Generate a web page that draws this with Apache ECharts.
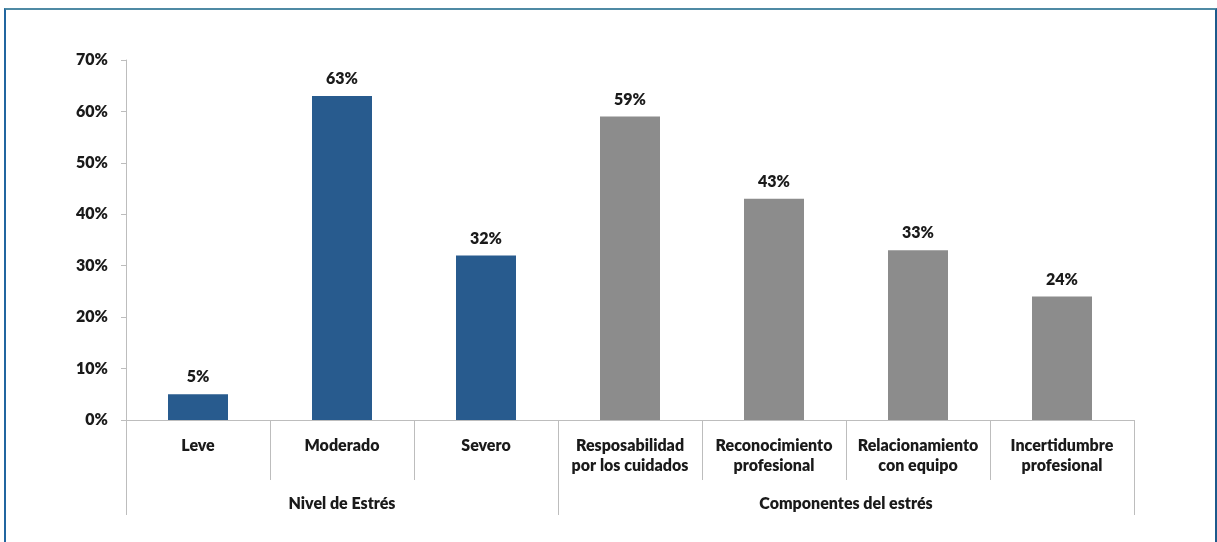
<!DOCTYPE html>
<html>
<head>
<meta charset="utf-8">
<script src="https://cdn.jsdelivr.net/npm/echarts@6/dist/echarts.min.js"></script>
<style>
  html, body { margin: 0; padding: 0; background: #ffffff; }
  #chart { position: absolute; left: 0; top: 0; width: 1217px; height: 542px; }
  #frame { position: absolute; left: 4px; top: 8px; width: 1209px; height: 560px;
           border-top: 2px solid #4f8aa4; border-left: 2px solid #2166a0; border-right: 2px solid #1c5a8c;
           pointer-events: none; }
</style>
</head>
<body>
<div id="chart"></div>
<div id="frame"></div>
<script>
// Data
const categories = ['Leve', 'Moderado', 'Severo',
  'Resposabilidad\npor los cuidados', 'Reconocimiento\nprofesional',
  'Relacionamiento\ncon equipo', 'Incertidumbre\nprofesional'];
const values = [5, 63, 32, 59, 43, 33, 24];
const groupNames = ['Nivel de Estrés', 'Componentes del estrés'];
const groupSizes = [3, 4];
const yTicks = [0, 10, 20, 30, 40, 50, 60, 70];

const groupColors = ['#285b8e', '#8c8c8c'];
const FONT = 'Lato';
const WEIGHT = 800;
const SIZE = 16;
const TXT = '#1a1a1a';
const AX = '#bdbdbd';

// derived group boundaries and centres
const bounds = [0];
groupSizes.forEach(s => bounds.push(bounds[bounds.length - 1] + s));
const centres = groupSizes.map((s, i) => bounds[i] + s / 2);
const groupOfIndex = [];
groupSizes.forEach((s, g) => { for (let k = 0; k < s; k++) groupOfIndex.push(g); });

const chart = echarts.init(document.getElementById('chart'), null, { renderer: 'canvas' });
chart.setOption({
  animation: false,
  backgroundColor: '#ffffff',
  grid: { left: 126, right: 83, top: 60, bottom: 122 },
  xAxis: [
    {
      type: 'category',
      data: categories,
      axisLine: { show: true, lineStyle: { color: AX, width: 1 } },
      axisTick: { show: true, interval: 0, length: 60, lineStyle: { color: AX } },
      axisLabel: {
        interval: 0, margin: 16, color: TXT, fontFamily: FONT, fontWeight: WEIGHT,
        fontSize: SIZE, lineHeight: 20
      }
    },
    {
      type: 'value',
      position: 'bottom',
      min: 0, max: bounds[bounds.length - 1],
      splitLine: { show: false },
      axisLine: { show: false },
      axisTick: { show: true, customValues: bounds, length: 95, lineStyle: { color: AX } },
      axisLabel: {
        customValues: centres, margin: 76, color: TXT, fontFamily: FONT, fontWeight: WEIGHT,
        fontSize: SIZE,
        formatter: function (v) {
          const i = centres.indexOf(v);
          return i >= 0 ? groupNames[i] : '';
        }
      }
    }
  ],
  yAxis: {
    type: 'value',
    min: yTicks[0], max: yTicks[yTicks.length - 1], interval: 10,
    splitLine: { show: false },
    axisLine: { show: true, lineStyle: { color: AX } },
    axisTick: { show: true, length: 5, lineStyle: { color: AX } },
    axisLabel: {
      margin: 18, color: TXT, fontFamily: FONT, fontWeight: WEIGHT, fontSize: SIZE,
      formatter: '{value}%'
    }
  },
  series: [{
    type: 'bar',
    xAxisIndex: 0,
    barWidth: 60,
    data: values.map((v, i) => ({ value: v, itemStyle: { color: groupColors[groupOfIndex[i]] } })),
    label: {
      show: true, position: 'top', distance: 9, color: TXT, fontFamily: FONT,
      fontWeight: WEIGHT, fontSize: SIZE, formatter: '{c}%'
    }
  }]
});
</script>
</body>
</html>
